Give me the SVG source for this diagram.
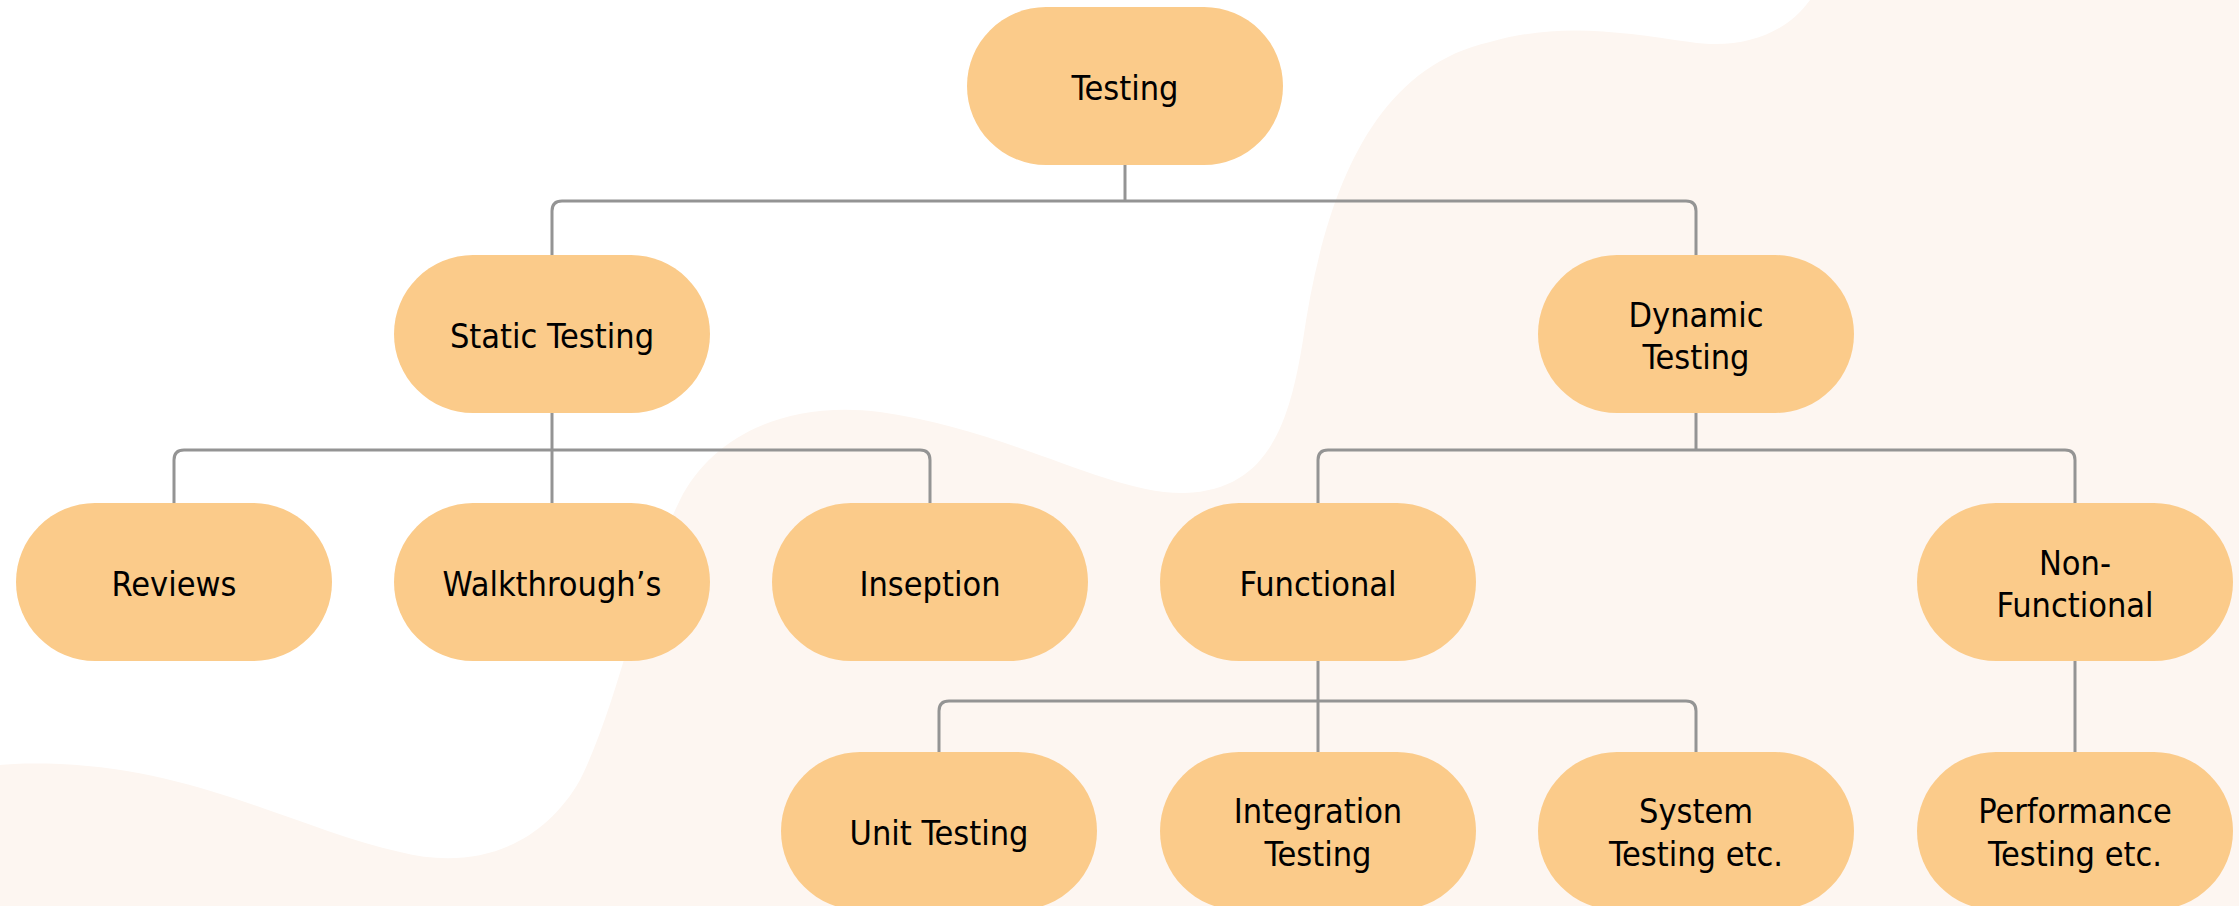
<svg xmlns="http://www.w3.org/2000/svg" width="2239" height="906" viewBox="0 0 2239 906">
  <style>
    .node rect { fill: #fbcb8a; }
    .node text { font-family: "DejaVu Sans Condensed", "DejaVu Sans", sans-serif; font-stretch: condensed; font-size: 34px; fill: #000; text-anchor: middle; }
    .links path { fill: none; stroke: #949494; stroke-width: 3; }
  </style>
  <rect width="2239" height="906" fill="#ffffff"/>
  <!-- soft background blob -->
  <path d="M 1810 0 C 1785 35, 1740 50, 1690 42 C 1620 32, 1560 22, 1490 42 C 1365 70, 1322 210, 1303 340 C 1290 420, 1270 490, 1185 493 C 1110 495, 1010 430, 880 412 C 780 400, 710 440, 680 500 C 640 580, 620 700, 580 780 C 540 850, 470 870, 400 852 C 300 830, 200 770, 60 764 C 30 763, 10 764, 0 765 L 0 906 L 2239 906 L 2239 0 Z" fill="#fdf6f1"/>

  <g id="connectors" class="links">
    <path d="M 1125 165 V 201"/>
    <path d="M 552 255 V 211 Q 552 201 562 201 H 1686 Q 1696 201 1696 211 V 255"/>
    <path d="M 552 413 V 503"/>
    <path d="M 174 503 V 460 Q 174 450 184 450 H 920 Q 930 450 930 460 V 503"/>
    <path d="M 1696 413 V 450"/>
    <path d="M 1318 503 V 460 Q 1318 450 1328 450 H 2065 Q 2075 450 2075 460 V 503"/>
    <path d="M 1318 661 V 752"/>
    <path d="M 939 752 V 711 Q 939 701 949 701 H 1686 Q 1696 701 1696 711 V 752"/>
    <path d="M 2075 661 V 752"/>
  </g>

  <g id="node-testing" class="node">
    <rect x="967" y="7" width="316" height="158" rx="79"/>
    <text x="1125" y="100">Testing</text>
  </g>
  <g id="node-static" class="node">
    <rect x="394" y="255" width="316" height="158" rx="79"/>
    <text x="552" y="348">Static Testing</text>
  </g>
  <g id="node-dynamic" class="node">
    <rect x="1538" y="255" width="316" height="158" rx="79"/>
    <text x="1696" y="327">Dynamic</text>
    <text x="1696" y="369">Testing</text>
  </g>
  <g id="node-reviews" class="node">
    <rect x="16" y="503" width="316" height="158" rx="79"/>
    <text x="174" y="596">Reviews</text>
  </g>
  <g id="node-walkthroughs" class="node">
    <rect x="394" y="503" width="316" height="158" rx="79"/>
    <text x="552" y="596">Walkthrough’s</text>
  </g>
  <g id="node-inseption" class="node">
    <rect x="772" y="503" width="316" height="158" rx="79"/>
    <text x="930" y="596">Inseption</text>
  </g>
  <g id="node-functional" class="node">
    <rect x="1160" y="503" width="316" height="158" rx="79"/>
    <text x="1318" y="596">Functional</text>
  </g>
  <g id="node-nonfunctional" class="node">
    <rect x="1917" y="503" width="316" height="158" rx="79"/>
    <text x="2075" y="575">Non-</text>
    <text x="2075" y="617">Functional</text>
  </g>
  <g id="node-unit" class="node">
    <rect x="781" y="752" width="316" height="158" rx="79"/>
    <text x="939" y="845">Unit Testing</text>
  </g>
  <g id="node-integration" class="node">
    <rect x="1160" y="752" width="316" height="158" rx="79"/>
    <text x="1318" y="823">Integration</text>
    <text x="1318" y="866">Testing</text>
  </g>
  <g id="node-system" class="node">
    <rect x="1538" y="752" width="316" height="158" rx="79"/>
    <text x="1696" y="823">System</text>
    <text x="1696" y="866">Testing etc.</text>
  </g>
  <g id="node-performance" class="node">
    <rect x="1917" y="752" width="316" height="158" rx="79"/>
    <text x="2075" y="823">Performance</text>
    <text x="2075" y="866">Testing etc.</text>
  </g>
</svg>
